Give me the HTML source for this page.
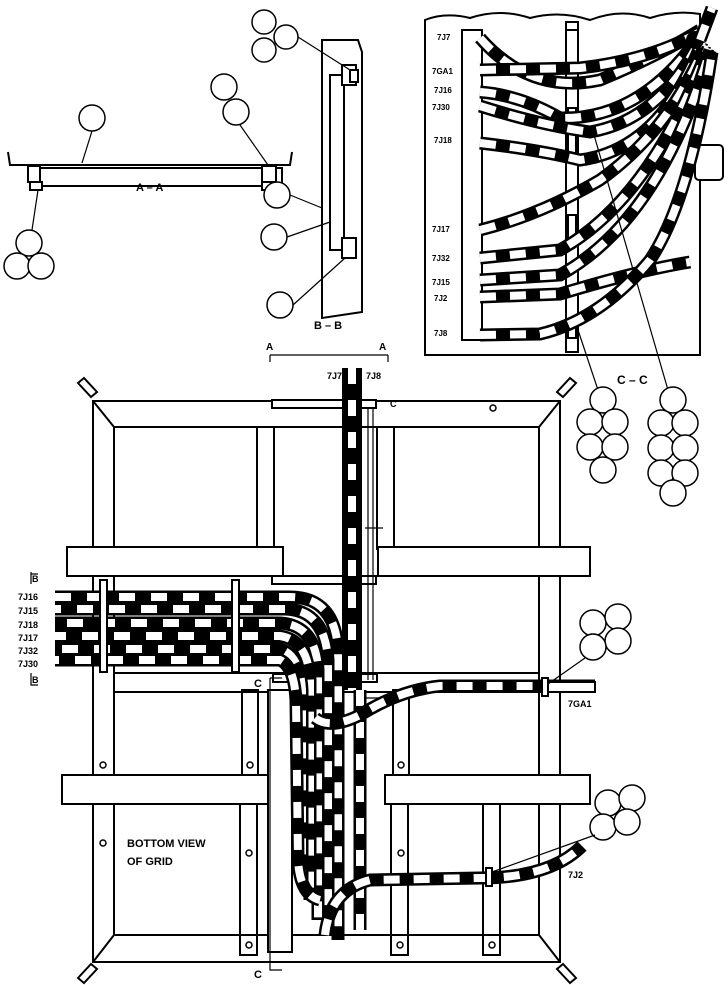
<!DOCTYPE html>
<html><head><meta charset="utf-8"><style>
html,body{margin:0;padding:0;background:#fff;}
svg{display:block;}
text{font-family:"Liberation Sans",sans-serif;font-weight:bold;fill:#000;}
.l{fill:none;stroke:#000;stroke-width:2;}
.t{fill:none;stroke:#000;stroke-width:1.2;}
.w{fill:#fff;stroke:#000;stroke-width:2;}
.c{fill:#fff;stroke:#000;stroke-width:1.5;}
.cb{fill:none;stroke:#000;stroke-width:13;}
.cw{fill:none;stroke:#fff;stroke-width:8;stroke-dasharray:16 16;}
.sb{fill:none;stroke:#000;stroke-width:13;}
.sw{fill:none;stroke:#fff;stroke-width:8;stroke-dasharray:16 14;}
</style></head><body>
<svg width="728" height="985" viewBox="0 0 728 985" xmlns="http://www.w3.org/2000/svg">
<defs>
<path id="v1" d="M352 368 L352 690"/>
<path id="h1" d="M55 597 L290 597 Q335 597 338 650 L338 940"/>
<path id="h2" d="M55 609 L285 609 Q325 610 328 660 L328 930"/>
<path id="h3" d="M55 623 L280 623 Q316 625 318 670 L318 920"/>
<path id="h4" d="M55 636 L280 636 Q308 640 310 680 L310 900"/>
<path id="h5" d="M55 649 L280 649 Q300 655 302 690 L302 880"/>
<path id="h6" d="M55 660 L280 660 Q294 666 296 700 L298 860 Q300 895 320 900"/>
<path id="g1" d="M315 718 Q330 730 360 715 Q400 690 440 686 L595 686"/>
<path id="g2" d="M325 935 Q330 890 370 880 L480 878 Q550 878 582 846"/>
<path id="vr" d="M360 690 L360 930"/>
<path id="k1" d="M480 38 Q530 95 600 80 Q660 55 700 30"/>
<path id="k2" d="M480 70 L580 68 Q650 60 700 32"/>
<path id="k3" d="M480 92 Q520 95 560 118 Q640 120 698 38"/>
<path id="k4" d="M480 106 Q540 125 590 132 Q660 120 700 40"/>
<path id="k5" d="M480 143 Q540 150 580 160 Q660 150 702 42"/>
<path id="k6" d="M480 230 Q540 215 600 180 Q670 130 705 45"/>
<path id="k7" d="M480 258 L560 250 Q650 200 708 48"/>
<path id="k8" d="M480 280 L560 275 Q660 220 710 50"/>
<path id="k9" d="M480 297 L560 294 Q640 270 690 262"/>
<path id="k10" d="M480 335 L540 334 Q600 320 650 260 Q690 200 712 52"/>
</defs>

<!-- A-A view -->
<path class="l" d="M8 152 L10 165 L290 165 L292 152"/>
<rect class="w" x="32" y="168" width="250" height="18"/>
<rect class="w" x="28" y="166" width="12" height="16"/>
<rect class="w" x="262" y="166" width="14" height="16"/>
<rect class="w" x="30" y="182" width="12" height="8"/>
<rect class="w" x="262" y="182" width="12" height="8"/>
<circle class="c" cx="92" cy="118" r="13"/>
<line class="t" x1="92" y1="131" x2="82" y2="163"/>
<circle class="c" cx="224" cy="87" r="13"/><circle class="c" cx="236" cy="112" r="13"/>
<line class="t" x1="240" y1="125" x2="268" y2="165"/>
<circle class="c" cx="29" cy="243" r="13"/><circle class="c" cx="17" cy="266" r="13"/><circle class="c" cx="41" cy="266" r="13"/>
<line class="t" x1="32" y1="230" x2="38" y2="190"/>
<text x="136" y="191" font-size="11">A – A</text>

<!-- B-B view -->
<path class="l" d="M322 40 L358 40 L362 52 L362 312 L322 318 Z"/>
<rect class="w" x="330" y="75" width="14" height="175"/>
<rect class="w" x="342" y="65" width="14" height="20"/>
<rect class="w" x="342" y="238" width="14" height="20"/>
<rect class="w" x="350" y="70" width="8" height="12"/>
<circle class="c" cx="264" cy="22" r="12"/><circle class="c" cx="286" cy="37" r="12"/><circle class="c" cx="264" cy="50" r="12"/>
<line class="t" x1="298" y1="37" x2="350" y2="70"/>
<circle class="c" cx="277" cy="195" r="13"/><line class="t" x1="290" y1="195" x2="322" y2="208"/>
<circle class="c" cx="274" cy="237" r="13"/><line class="t" x1="287" y1="237" x2="330" y2="222"/>
<circle class="c" cx="280" cy="305" r="13"/><line class="t" x1="293" y1="305" x2="345" y2="258"/>
<text x="314" y="329" font-size="11">B – B</text>

<!-- Section markers A -->
<line class="t" x1="270" y1="355" x2="388" y2="355"/>
<line class="t" x1="270" y1="355" x2="270" y2="362"/><line class="t" x1="388" y1="355" x2="388" y2="362"/>
<text x="266" y="350" font-size="10">A</text><text x="379" y="350" font-size="10">A</text>

<!-- C-C view -->
<path class="l" d="M425 20 Q445 12 470 18 Q500 8 530 18 Q560 10 590 20 Q620 8 650 18 Q675 10 700 14 L700 355 L425 355 Z"/>
<rect class="w" x="462" y="30" width="20" height="310"/>
<rect class="w" x="566" y="22" width="12" height="330"/>
<rect class="w" x="568" y="108" width="8" height="50"/>
<rect class="w" x="568" y="215" width="8" height="25"/>
<rect class="w" x="568" y="320" width="8" height="18"/>
<rect class="w" x="695" y="145" width="28" height="35" rx="4"/>
<g>
<use href="#k1" class="sb"/><use href="#k1" class="sw"/>
<use href="#k2" class="sb"/><use href="#k2" class="sw"/>
<use href="#k3" class="sb"/><use href="#k3" class="sw"/>
<use href="#k4" class="sb"/><use href="#k4" class="sw"/>
<use href="#k5" class="sb"/><use href="#k5" class="sw"/>
<use href="#k6" class="sb"/><use href="#k6" class="sw"/>
<use href="#k7" class="sb"/><use href="#k7" class="sw"/>
<use href="#k8" class="sb"/><use href="#k8" class="sw"/>
<use href="#k9" class="sb"/><use href="#k9" class="sw"/>
<use href="#k10" class="sb"/><use href="#k10" class="sw"/>
</g>
<circle cx="695" cy="40" r="9" fill="#000"/>
<path class="sb" d="M700 40 L712 8"/><path class="sw" d="M700 40 L712 8"/>
<rect class="w" x="566" y="22" width="12" height="8"/>
<g font-size="8">
<text x="437" y="40">7J7</text><text x="432" y="74">7GA1</text><text x="434" y="93">7J16</text>
<text x="432" y="110">7J30</text><text x="434" y="143">7J18</text><text x="432" y="232">7J17</text>
<text x="432" y="261">7J32</text><text x="432" y="285">7J15</text><text x="434" y="301">7J2</text>
<text x="434" y="336">7J8</text>
</g>
<line class="t" x1="592" y1="128" x2="668" y2="390"/>
<line class="t" x1="578" y1="330" x2="598" y2="390"/>
<text x="617" y="384" font-size="12">C – C</text>

<!-- C-C clusters -->
<g>
<circle class="c" cx="603" cy="400" r="13"/><circle class="c" cx="590" cy="422" r="13"/><circle class="c" cx="615" cy="422" r="13"/>
<circle class="c" cx="590" cy="447" r="13"/><circle class="c" cx="615" cy="447" r="13"/><circle class="c" cx="603" cy="470" r="13"/>
<circle class="c" cx="673" cy="400" r="13"/><circle class="c" cx="661" cy="423" r="13"/><circle class="c" cx="685" cy="423" r="13"/>
<circle class="c" cx="661" cy="448" r="13"/><circle class="c" cx="685" cy="448" r="13"/><circle class="c" cx="661" cy="473" r="13"/><circle class="c" cx="685" cy="473" r="13"/><circle class="c" cx="673" cy="493" r="13"/>
</g>

<!-- GRID -->
<rect class="l" x="93" y="401" width="467" height="561"/>
<rect class="l" x="114" y="427" width="425" height="508"/>
<path class="l" d="M93 401 L114 427 M560 401 L539 427 M93 962 L114 935 M560 962 L539 935"/>
<path class="w" d="M78 383 L84 378 L97 392 L91 397 Z"/>
<path class="w" d="M570 378 L576 383 L563 397 L557 392 Z"/>
<path class="w" d="M78 978 L84 983 L97 969 L91 964 Z"/>
<path class="w" d="M570 983 L576 978 L563 964 L557 969 Z"/>
<rect class="l" x="257" y="427" width="17" height="122"/>
<rect class="l" x="377" y="427" width="17" height="122"/>
<rect class="l" x="240" y="803" width="17" height="152"/>
<rect class="l" x="391" y="803" width="17" height="152"/>
<rect class="l" x="483" y="803" width="17" height="152"/>
<rect class="l" x="242" y="690" width="16" height="85"/>
<rect class="l" x="393" y="690" width="16" height="85"/>
<rect class="l" x="114" y="673" width="425" height="19"/>
<rect class="w" x="67" y="547" width="216" height="29"/>
<rect class="w" x="378" y="547" width="212" height="29"/>
<rect class="w" x="62" y="775" width="206" height="29"/>
<rect class="w" x="385" y="775" width="205" height="29"/>
<rect class="w" x="268" y="690" width="24" height="262"/>
<g>
<circle class="c" cx="493" cy="408" r="3"/><circle class="c" cx="103" cy="765" r="3"/><circle class="c" cx="250" cy="765" r="3"/>
<circle class="c" cx="401" cy="765" r="3"/><circle class="c" cx="103" cy="843" r="3"/><circle class="c" cx="249" cy="853" r="3"/>
<circle class="c" cx="401" cy="853" r="3"/><circle class="c" cx="249" cy="945" r="3"/><circle class="c" cx="400" cy="945" r="3"/><circle class="c" cx="492" cy="945" r="3"/>
</g>
<rect class="w" x="272" y="400" width="104" height="8"/>
<rect class="w" x="272" y="576" width="104" height="8"/>
<rect class="w" x="273" y="674" width="104" height="8"/>
<line class="t" x1="368" y1="408" x2="368" y2="680"/><line class="t" x1="373" y1="408" x2="373" y2="680"/>
<line class="t" x1="365" y1="528" x2="383" y2="528"/><line class="t" x1="365" y1="698" x2="383" y2="698"/>
<use href="#h1" class="cb"/><use href="#h1" class="cw"/>
<use href="#h2" class="cb"/><use href="#h2" class="cw" style="stroke-dashoffset:10"/>
<use href="#h3" class="cb"/><use href="#h3" class="cw" style="stroke-dashoffset:20"/>
<use href="#h4" class="cb"/><use href="#h4" class="cw" style="stroke-dashoffset:5"/>
<use href="#h5" class="cb"/><use href="#h5" class="cw" style="stroke-dashoffset:25"/>
<use href="#h6" class="cb"/><use href="#h6" class="cw" style="stroke-dashoffset:12"/>
<use href="#v1" class="cb" style="stroke-width:20"/><use href="#v1" class="cw" style="stroke-width:8"/>
<use href="#vr" class="cb"/><use href="#vr" class="cw"/>
<use href="#g1" class="sb"/><use href="#g1" class="sw"/>
<use href="#g2" class="sb"/><use href="#g2" class="sw"/>
<rect class="w" x="100" y="580" width="7" height="92"/>
<rect class="w" x="232" y="580" width="7" height="92"/>
<rect class="w" x="540" y="682" width="55" height="10"/>
<rect class="w" x="542" y="678" width="6" height="18"/>
<rect class="w" x="486" y="868" width="6" height="18"/>
<circle class="c" cx="593" cy="623" r="13"/><circle class="c" cx="618" cy="617" r="13"/><circle class="c" cx="618" cy="641" r="13"/><circle class="c" cx="593" cy="647" r="13"/>
<line class="t" x1="585" y1="658" x2="548" y2="684"/>
<circle class="c" cx="608" cy="803" r="13"/><circle class="c" cx="632" cy="798" r="13"/><circle class="c" cx="603" cy="827" r="13"/><circle class="c" cx="627" cy="822" r="13"/>
<line class="t" x1="595" y1="835" x2="492" y2="872"/>
<g font-size="9">
<text x="327" y="379">7J7</text><text x="366" y="379">7J8</text>
<text x="390" y="407">C</text>
<text x="254" y="687" font-size="11">C</text>
<text x="254" y="978" font-size="11">C</text>
<text x="568" y="707">7GA1</text>
<text x="568" y="878">7J2</text>
<text x="32" y="582">B</text><text x="32" y="683">B</text>
<text x="18" y="600">7J16</text><text x="18" y="614">7J15</text><text x="18" y="628">7J18</text>
<text x="18" y="641">7J17</text><text x="18" y="654">7J32</text><text x="18" y="667">7J30</text>
</g>
<path class="t" d="M31 572 L31 584 M31 574 L38 574 M31 673 L31 685 L38 685"/>
<path class="t" d="M270 678 L270 970 L282 970 M270 678 L282 678"/>
<text x="127" y="847" font-size="11">BOTTOM VIEW</text>
<text x="127" y="865" font-size="11">OF GRID</text>
</svg>
</body></html>
